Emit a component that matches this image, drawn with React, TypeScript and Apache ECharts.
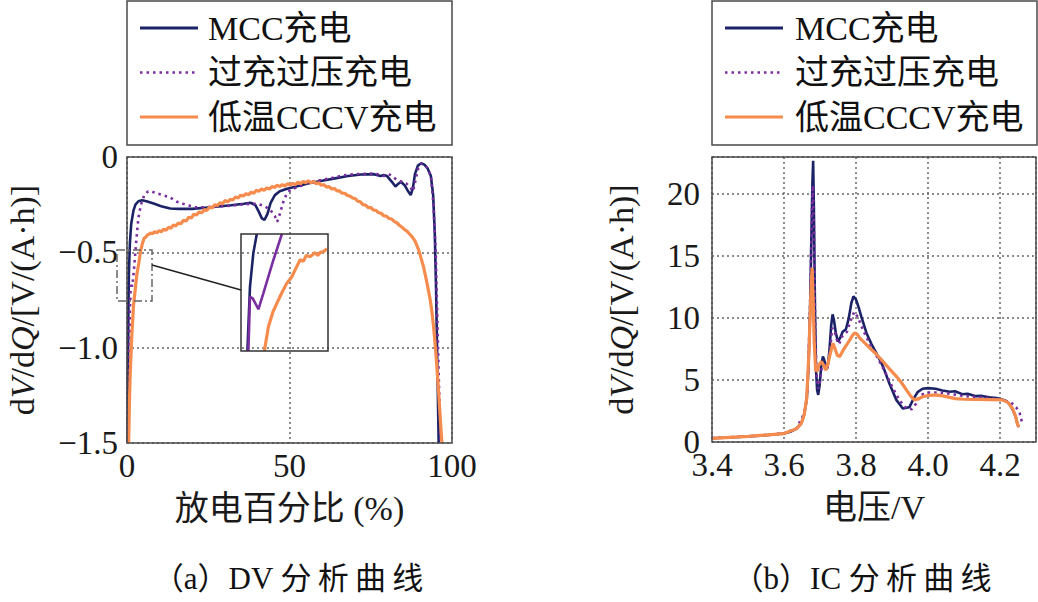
import React, { useEffect, useRef } from "react";
import * as echarts from "echarts";

const FONT = "'Liberation Serif', 'Times New Roman', 'Noto Sans CJK SC', serif";
const NAVY = "#1b2366";
const PURPLE = "#7a2ea0";
const ORANGE = "#f58b4c";
const FRAME = "#4a4a4a";

const seriesNames = ["MCC充电", "过充过压充电", "低温CCCV充电"];

// (a) DV curves: [discharge %, dV/dQ]
const dvMcc: [number, number][] = [
  [0.2, -1.5], [0.3, -1.1], [0.45, -0.78], [0.6, -0.6], [0.9, -0.45], [1.3, -0.35], [2, -0.28], [2.6, -0.25],
  [3.5, -0.232], [4.6, -0.227], [6, -0.232], [8.2, -0.244], [10.5, -0.258], [13.3, -0.27], [16, -0.272],
  [20, -0.272], [24, -0.266], [28, -0.26], [32, -0.253], [36, -0.245], [38, -0.24], [39.5, -0.252],
  [40.5, -0.285], [41.5, -0.322], [42.3, -0.33], [43.2, -0.3], [44.2, -0.24], [45.5, -0.2], [47, -0.18],
  [49, -0.168], [52, -0.155], [56, -0.138], [60, -0.125], [64, -0.112], [68, -0.1], [72, -0.092],
  [76, -0.09], [78, -0.1], [79, -0.095], [80, -0.1], [81.5, -0.13], [82.6, -0.155], [83.5, -0.14],
  [84.3, -0.13], [85.5, -0.15], [86.5, -0.18], [87.3, -0.2], [88, -0.16], [88.6, -0.09], [89.5, -0.045],
  [90.5, -0.033], [91.5, -0.04], [92.5, -0.06], [93.5, -0.1], [94.2, -0.2], [94.7, -0.4], [95.1, -0.7],
  [95.4, -1.0], [95.7, -1.3], [95.9, -1.5],
];
const dvOver: [number, number][] = [
  [0.3, -1.5], [0.6, -1.1], [0.9, -0.8], [1.2, -0.66], [1.6, -0.68], [2.1, -0.6], [2.8, -0.45],
  [3.5, -0.32], [4.3, -0.25], [5.3, -0.2], [6.5, -0.18], [7.5, -0.18], [9, -0.19], [11, -0.2],
  [13, -0.21], [15.4, -0.235], [18, -0.25], [21.5, -0.265], [25, -0.262], [30, -0.258], [35, -0.25],
  [38, -0.245], [40, -0.245], [42, -0.255], [44, -0.275], [45.5, -0.31], [46.2, -0.34], [47, -0.3],
  [48, -0.24], [49.2, -0.19], [50.5, -0.17], [53, -0.155], [56.4, -0.13], [60, -0.12], [63, -0.11],
  [66.7, -0.096], [70, -0.09], [74.9, -0.087], [77, -0.09], [79, -0.1], [80.5, -0.09], [81.5, -0.1],
  [83, -0.12], [84.5, -0.13], [86, -0.14], [87.2, -0.16], [88, -0.18], [88.8, -0.12], [89.6, -0.06],
  [90.5, -0.035], [91.5, -0.04], [92.5, -0.06], [93.5, -0.1], [94.3, -0.25], [95, -0.5], [95.5, -0.85],
  [96, -1.2], [96.5, -1.5],
];
const dvLow: [number, number][] = [
  [0.5, -1.5], [0.8, -1.25], [1.0, -1.13], [1.5, -0.93], [2.0, -0.78], [2.5, -0.7], [3.0, -0.62],
  [3.6, -0.56], [4.2, -0.49], [4.8, -0.45], [5.3, -0.425], [5.8, -0.42], [6.2, -0.41], [6.8, -0.405],
  [7.3, -0.398], [7.9, -0.402], [8.5, -0.392], [9.2, -0.398], [9.9, -0.386], [10.6, -0.392], [11.3, -0.378],
  [12.0, -0.384], [12.8, -0.368], [13.5, -0.374], [14.3, -0.356], [15.0, -0.362], [15.8, -0.346],
  [16.6, -0.35], [17.4, -0.332], [18.2, -0.336], [19.0, -0.316], [19.8, -0.32], [20.6, -0.3],
  [21.4, -0.304], [22.2, -0.288], [23.0, -0.292], [23.8, -0.276], [24.6, -0.28], [25.4, -0.262],
  [26.2, -0.268], [27.0, -0.25], [27.8, -0.255], [28.6, -0.24], [29.4, -0.245], [30.2, -0.228],
  [31.0, -0.235], [31.8, -0.222], [32.6, -0.225], [33.4, -0.21], [34.2, -0.215], [35.0, -0.2],
  [35.8, -0.205], [36.6, -0.192], [37.4, -0.198], [38.2, -0.185], [39.0, -0.19], [39.8, -0.175],
  [40.6, -0.18], [41.4, -0.168], [42.2, -0.175], [43.0, -0.162], [43.8, -0.168], [44.6, -0.155],
  [45.4, -0.16], [46.2, -0.148], [47.0, -0.155], [47.8, -0.145], [48.6, -0.152], [49.4, -0.14],
  [50.2, -0.148], [51.0, -0.138], [51.8, -0.145], [52.6, -0.132], [53.4, -0.14], [54.2, -0.128],
  [55.0, -0.135], [55.8, -0.125], [56.6, -0.135], [57.4, -0.128], [58.2, -0.14], [59.0, -0.135],
  [59.8, -0.148], [60.6, -0.145], [61.4, -0.158], [62.2, -0.155], [63.0, -0.168], [63.8, -0.165],
  [64.6, -0.178], [65.4, -0.178], [66.2, -0.19], [67.0, -0.19], [67.8, -0.202], [68.6, -0.205],
  [69.4, -0.215], [70.2, -0.218], [71.0, -0.232], [71.8, -0.235], [72.6, -0.25], [73.4, -0.252],
  [74.2, -0.265], [75.0, -0.265], [75.8, -0.278], [76.6, -0.28], [77.4, -0.292], [78.2, -0.295],
  [79.0, -0.308], [79.8, -0.31], [80.6, -0.322], [81.4, -0.325], [82.2, -0.338], [83.0, -0.345],
  [83.8, -0.358], [84.6, -0.368], [85.4, -0.38], [86.2, -0.39], [87.0, -0.405], [87.8, -0.42],
  [88.6, -0.44], [89.2, -0.465], [89.8, -0.49], [90.3, -0.52], [90.8, -0.55], [91.3, -0.58],
  [91.8, -0.62], [92.3, -0.66], [92.8, -0.705], [93.3, -0.75], [93.8, -0.81], [94.2, -0.87],
  [94.6, -0.94], [94.9, -1.0], [95.3, -1.09], [95.6, -1.16], [95.9, -1.24], [96.2, -1.32],
  [96.5, -1.4], [96.9, -1.5],
];

// (a) inset: magnified view of the start region
const insetMcc: [number, number][] = [[0.44, -0.78], [0.62, -0.615], [0.85, -0.529], [1.09, -0.48]];
const insetOver: [number, number][] = [
  [0.51, -0.78], [0.62, -0.641], [0.81, -0.645], [1.2, -0.673], [1.54, -0.632], [2.24, -0.546], [2.82, -0.48],
];
const insetLow: [number, number][] = [
  [1.61, -0.78], [1.89, -0.718], [2.2, -0.68], [2.47, -0.658], [2.8, -0.632], [3.16, -0.606], [3.5, -0.59],
  [3.85, -0.563], [4.08, -0.546], [4.3, -0.55], [4.5, -0.535], [4.78, -0.538], [5.1, -0.528], [5.3, -0.535],
  [5.47, -0.527], [5.7, -0.525], [5.93, -0.518],
];

// (b) IC curves: [voltage V, dQ/dV]
const icMcc: [number, number][] = [
  [3.4, 0.3], [3.45, 0.36], [3.5, 0.45], [3.55, 0.55], [3.6, 0.68], [3.62, 0.85], [3.635, 1.08],
  [3.648, 1.5], [3.656, 2.2], [3.663, 3.4], [3.668, 6.0], [3.672, 10.0], [3.676, 16.4], [3.679, 21.0],
  [3.681, 22.7], [3.683, 19.0], [3.686, 10.9], [3.689, 5.8], [3.692, 4.2], [3.695, 3.8], [3.699, 4.6],
  [3.703, 6.0], [3.708, 6.9], [3.712, 6.6], [3.717, 5.9], [3.721, 6.0], [3.726, 7.3], [3.731, 9.4],
  [3.735, 10.3], [3.739, 9.8], [3.744, 8.8], [3.75, 8.1], [3.756, 8.4], [3.763, 8.9], [3.772, 9.1],
  [3.78, 10.0], [3.787, 11.2], [3.793, 11.75], [3.8, 11.5], [3.808, 10.8], [3.815, 10.1], [3.829, 8.8],
  [3.843, 7.9], [3.856, 7.2], [3.875, 6.1], [3.893, 4.7], [3.912, 3.4], [3.93, 2.7], [3.948, 2.8],
  [3.96, 3.5], [3.972, 4.05], [3.985, 4.3], [4.0, 4.35], [4.021, 4.3], [4.04, 4.15], [4.06, 4.05],
  [4.075, 4.1], [4.095, 3.86], [4.11, 3.9], [4.133, 3.7], [4.15, 3.72], [4.17, 3.6], [4.19, 3.55],
  [4.206, 3.43], [4.218, 3.3], [4.228, 3.0], [4.237, 2.5], [4.244, 2.0], [4.248, 1.5], [4.252, 1.2],
];
const icOver: [number, number][] = [
  [3.4, 0.32], [3.5, 0.46], [3.6, 0.7], [3.635, 1.1], [3.656, 2.3], [3.665, 4.0], [3.672, 10.5],
  [3.677, 18], [3.68, 20.7], [3.683, 17.5], [3.686, 10.5], [3.69, 5.5], [3.695, 4.3], [3.7, 4.9],
  [3.707, 6.5], [3.713, 6.4], [3.72, 5.9], [3.727, 7.2], [3.734, 9.2], [3.74, 9.0], [3.746, 8.3],
  [3.753, 7.9], [3.763, 8.6], [3.775, 8.9], [3.785, 9.8], [3.795, 10.5], [3.805, 10.1], [3.82, 9.0],
  [3.84, 7.8], [3.86, 6.8], [3.88, 5.7], [3.9, 4.5], [3.92, 3.4], [3.94, 2.7], [3.955, 2.65],
  [3.967, 3.1], [3.98, 3.8], [4.0, 4.0], [4.03, 4.0], [4.06, 3.9], [4.09, 3.75], [4.12, 3.65],
  [4.15, 3.6], [4.18, 3.5], [4.21, 3.35], [4.23, 3.2], [4.245, 2.8], [4.255, 2.3], [4.262, 1.5],
];
const icLow: [number, number][] = [
  [3.4, 0.3], [3.5, 0.45], [3.6, 0.68], [3.635, 1.08], [3.648, 1.5], [3.656, 2.2], [3.663, 3.5],
  [3.669, 7.0], [3.674, 11.5], [3.678, 14.05], [3.681, 11.5], [3.684, 8.0], [3.688, 5.8], [3.692, 5.7],
  [3.697, 6.2], [3.704, 6.5], [3.71, 6.2], [3.716, 5.8], [3.722, 6.3], [3.729, 7.2], [3.736, 7.97],
  [3.742, 7.5], [3.748, 7.0], [3.755, 6.9], [3.764, 7.4], [3.773, 7.8], [3.782, 8.2], [3.79, 8.6],
  [3.796, 8.8], [3.803, 8.7], [3.81, 8.4], [3.824, 8.0], [3.838, 7.6], [3.856, 7.1], [3.875, 6.5],
  [3.893, 5.9], [3.912, 5.3], [3.926, 4.8], [3.94, 4.2], [3.952, 3.7], [3.962, 3.4], [3.975, 3.5],
  [3.985, 3.65], [4.0, 3.75], [4.021, 3.8], [4.045, 3.7], [4.076, 3.5], [4.1, 3.45], [4.133, 3.43],
  [4.17, 3.42], [4.206, 3.4], [4.222, 3.2], [4.235, 2.7], [4.243, 2.1], [4.248, 1.5], [4.252, 1.2],
];

const dvXTicks = { min: 0, max: 100, interval: 50 };
const dvYTicks = { min: -1.5, max: 0, interval: 0.5 };
const icXTicks = { min: 3.4, max: 4.3, interval: 0.2 };
const icYTicks = { min: 0, max: 23, interval: 5 };

const captions = ["（a）DV 分\u2009析\u2009曲\u2009线", "（b）IC 分\u2009析\u2009曲\u2009线"];
const xNames = ["放电百分比 (%)", "电压/V"];

export default function App() {
  const ref = useRef<HTMLDivElement>(null);
  useEffect(() => {
    if (!ref.current) return;
    const chart = echarts.init(ref.current, undefined, { renderer: "svg" });
    const lineStyles = [
      { color: NAVY, width: 2.6, type: "solid" as const },
      { color: PURPLE, width: 2.6, type: [2.5, 4] as any },
      { color: ORANGE, width: 3.2, type: "solid" as const },
    ];
    const mk = (name: string, data: [number, number][], idx: number, axis: number, z = 2) => ({
      type: "line",
      name,
      data,
      xAxisIndex: axis,
      yAxisIndex: axis,
      showSymbol: false,
      symbol: "none",
      lineStyle: lineStyles[idx],
      itemStyle: { color: lineStyles[idx].color },
      z: z + idx,
      clip: true,
    });
    const gridLine = { show: true, lineStyle: { color: "#666", type: [2, 3] as any, width: 1.5 } };
    const labelStyle = { fontFamily: FONT, fontSize: 33, lineHeight: 22, color: "#1a1a1a" };
    const nameStyle = {
      fontFamily: FONT,
      fontSize: 34,
      color: "#1a1a1a",
      rich: { i: { fontFamily: FONT, fontSize: 34, fontStyle: "italic", color: "#1a1a1a" } },
    };
    const legendGroup = (x0: number, w: number, lineX: number, textX: number) => ({
      type: "group",
      children: [
        { type: "rect", shape: { x: x0, y: 1, width: w, height: 144 }, style: { fill: "#fff", stroke: FRAME, lineWidth: 1.5 } },
        ...seriesNames.map((n, i) => ({
          type: "line",
          shape: { x1: lineX, y1: 28 + i * 44.5, x2: lineX + 58, y2: 28 + i * 44.5 },
          style: { stroke: lineStyles[i].color, lineWidth: i === 1 ? 2.5 : 3, lineDash: i === 1 ? [2.5, 4] : null },
        })),
        ...seriesNames.map((n, i) => ({
          type: "text",
          x: textX,
          y: 28 + i * 44.5,
          style: { text: n, font: `34px ${FONT}`, fill: "#111", verticalAlign: "middle", align: "left" },
        })),
      ],
    });
    chart.setOption({
      animation: false,
      backgroundColor: "#fff",
      grid: [
        { left: 127, top: 157, width: 325, height: 286 },
        { left: 241, top: 234, width: 87, height: 117 },
        { left: 712, top: 157, width: 324, height: 285 },
      ],
      xAxis: [
        {
          gridIndex: 0, type: "value", ...dvXTicks,
          axisLine: { show: false }, axisTick: { show: false }, splitLine: gridLine,
          axisLabel: { ...labelStyle, margin: 12 },
          name: xNames[0], nameLocation: "middle", nameGap: 48, nameTextStyle: nameStyle,
        },
        { gridIndex: 1, type: "value", min: 0, max: 6, show: false, splitLine: { show: false } },
        {
          gridIndex: 2, type: "value", ...icXTicks,
          axisLine: { show: false }, axisTick: { show: false }, splitLine: gridLine,
          axisLabel: { ...labelStyle, margin: 12, showMaxLabel: false, formatter: (v: number) => v.toFixed(1) },
          name: xNames[1], nameLocation: "middle", nameGap: 48, nameTextStyle: nameStyle,
        },
      ],
      yAxis: [
        {
          gridIndex: 0, type: "value", ...dvYTicks,
          axisLine: { show: false }, axisTick: { show: false }, splitLine: gridLine,
          axisLabel: {
            ...labelStyle, margin: 9,
            formatter: (v: number) => (v === 0 ? "0" : "\u2212" + Math.abs(v).toFixed(1)),
          },
          name: "d{i|V}/d{i|Q}/[V/(A·h)]", nameLocation: "middle", nameGap: 88, nameTextStyle: nameStyle,
        },
        { gridIndex: 1, type: "value", min: -0.78, max: -0.48, show: false, splitLine: { show: false } },
        {
          gridIndex: 2, type: "value", ...icYTicks,
          axisLine: { show: false }, axisTick: { show: false }, splitLine: gridLine,
          axisLabel: { ...labelStyle, margin: 12, showMaxLabel: false },
          name: "d{i|V}/d{i|Q}/[V/(A·h)]", nameLocation: "middle", nameGap: 74, nameTextStyle: nameStyle,
        },
      ],
      series: [
        mk(seriesNames[0], dvMcc, 0, 0),
        mk(seriesNames[1], dvOver, 1, 0),
        mk(seriesNames[2], dvLow, 2, 0),
        mk(seriesNames[0], insetMcc, 0, 1, 10),
        mk(seriesNames[1], insetOver, 1, 1, 10),
        mk(seriesNames[2], insetLow, 2, 1, 10),
        mk(seriesNames[0], icMcc, 0, 2),
        mk(seriesNames[1], icOver, 1, 2),
        mk(seriesNames[2], icLow, 2, 2),
      ].map((s, i) => (i === 4 ? { ...s, lineStyle: { ...s.lineStyle, type: "solid" } } : s)),
      graphic: [
        legendGroup(127, 325, 140, 208),
        legendGroup(712, 325, 725, 795),
        { type: "rect", z: 50, shape: { x: 127, y: 157, width: 325, height: 286 }, style: { fill: "none", stroke: FRAME, lineWidth: 1.5 } },
        { type: "rect", z: 50, shape: { x: 712, y: 157, width: 324, height: 285 }, style: { fill: "none", stroke: FRAME, lineWidth: 1.5 } },
        { type: "rect", z: 50, shape: { x: 241, y: 234, width: 87, height: 117 }, style: { fill: "none", stroke: "#333", lineWidth: 1.5 } },
        { type: "rect", z: 50, shape: { x: 117, y: 250, width: 35, height: 51 }, style: { fill: "none", stroke: "#666", lineWidth: 1.5, lineDash: [8, 3, 2, 3] } },
        { type: "line", z: 50, shape: { x1: 152, y1: 265, x2: 241, y2: 290 }, style: { stroke: "#222", lineWidth: 1.5 } },
        { type: "text", x: 288, y: 578, style: { text: captions[0], font: `31px ${FONT}`, fill: "#111", align: "center", verticalAlign: "middle" } },
        { type: "text", x: 862, y: 578, style: { text: captions[1], font: `31px ${FONT}`, fill: "#111", align: "center", verticalAlign: "middle" } },
      ],
    });
    return () => chart.dispose();
  }, []);
  return (
    <div
      ref={ref}
      style={{ position: "absolute", left: 0, top: 0, width: 1038, height: 602, background: "#fff" }}
    />
  );
}
